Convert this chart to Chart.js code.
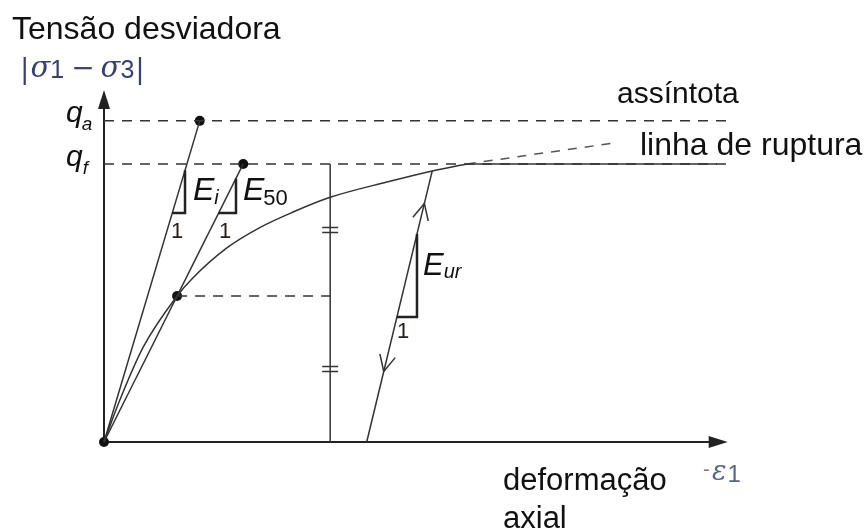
<!DOCTYPE html>
<html>
<head>
<meta charset="utf-8">
<script src="https://cdn.jsdelivr.net/npm/chart.js@4.4.1/dist/chart.umd.min.js"></script>
<style>
  body { margin: 0; background: #fff; }
  canvas { display: block; }
</style>
</head>
<body>
<canvas id="curva" width="866" height="531"></canvas>
<script>
// curva tensão-deformação hiperbólica (deformação axial x tensão desviadora)
const curveStrain = [0, 0.25, 0.62, 1.16, 1.41, 1.95, 2.48, 3.0, 3.59, 4.49, 5.21, 5.76];
const curveStress = [0, 1.5, 3.4, 5.25, 5.9, 6.98, 7.72, 8.27, 8.8, 9.35, 9.75, 10.0];

const qA = 11.55;          // assíntota
const qF = 10.0;           // ruptura
const eiStrain = 1.52;     // tangente inicial atinge qA
const e50Strain = 2.21;    // secante E50 atinge qF
const halfPoint = [1.16, 5.25];
const refStrain = 3.59;    // linha vertical de referência
const failStrain = 5.76;   // início do patamar
const failEnd = 9.73;
const asymptoteEnd = [8.11, 10.76];
const unloadBase = 4.17;
const unloadTop = [5.21, 9.75];
const xMax = 10, yMax = 12.66, xAxisEnd = 9.9;

const gray = '#333';
const seg = (pts, extra) => Object.assign({
  type: 'line', data: pts.map(p => ({ x: p[0], y: p[1] })), showLine: true,
  pointRadius: 0, borderColor: gray, borderWidth: 1.5, fill: false, clip: false
}, extra || {});

const dashed = { borderDash: [10, 8] };

const datasets = [
  seg([[0, qA], [xMax, qA]], dashed),
  seg([[0, qF], [xMax, qF]], dashed),
  seg([halfPoint, [refStrain, halfPoint[1]]], dashed),
  seg([[failStrain, qF], asymptoteEnd], { borderDash: [9, 8], borderColor: '#555' }),
  seg([[0, 0], [eiStrain, qA]]),
  seg([[0, 0], [e50Strain, qF]]),
  seg([[refStrain, 0], [refStrain, qF]]),
  seg(curveStrain.map((s, i) => [s, curveStress[i]]), { cubicInterpolationMode: 'monotone' }),
  seg([[failStrain, qF], [failEnd, qF]]),
  seg([[unloadBase, 0], unloadTop]),
  {
    type: 'scatter',
    data: [[0, 0], [eiStrain, qA], [e50Strain, qF], halfPoint].map(p => ({ x: p[0], y: p[1] })),
    pointRadius: 5, pointBackgroundColor: '#111', pointBorderWidth: 0, clip: false
  }
];

function line(ctx, a, b) {
  ctx.beginPath(); ctx.moveTo(a[0], a[1]); ctx.lineTo(b[0], b[1]); ctx.stroke();
}

function txt(ctx, s, x, y, font, color) {
  ctx.font = font; ctx.fillStyle = color || '#111';
  ctx.fillText(s, x, y);
  return x + ctx.measureText(s).width;
}

const annot = {
  id: 'annot',
  beforeDatasetsDraw(chart) {
    const { ctx, scales: { x, y } } = chart;
    const x0 = x.getPixelForValue(0), y0 = y.getPixelForValue(0);
    const yTop = y.getPixelForValue(yMax), xEnd = x.getPixelForValue(xAxisEnd);
    ctx.save();
    ctx.strokeStyle = '#222'; ctx.fillStyle = '#222'; ctx.lineWidth = 2;
    line(ctx, [x0, y0], [x0, yTop + 14]);
    line(ctx, [x0, y0], [xEnd - 14, y0]);
    ctx.beginPath();
    ctx.moveTo(x0, yTop); ctx.lineTo(x0 - 6, yTop + 19); ctx.lineTo(x0 + 6, yTop + 19); ctx.closePath(); ctx.fill();
    ctx.beginPath();
    ctx.moveTo(xEnd, y0); ctx.lineTo(xEnd - 19, y0 - 6); ctx.lineTo(xEnd - 19, y0 + 6); ctx.closePath(); ctx.fill();
    ctx.restore();
  },
  afterDatasetsDraw(chart) {
    const { ctx, scales: { x, y } } = chart;
    const P = (sx, sy) => [x.getPixelForValue(sx), y.getPixelForValue(sy)];
    ctx.save();

    // triângulos de inclinação
    ctx.strokeStyle = '#222'; ctx.lineWidth = 2.5; ctx.lineJoin = 'miter';
    const tri = (base, run, slope, q0) => {
      const s0 = base[0] + (run - base[1]) / slope;
      const top = base[1] + slope * (q0 - base[0]);
      ctx.beginPath();
      const a = P(s0, run), b = P(q0, run), c = P(q0, top);
      ctx.moveTo(a[0], a[1]); ctx.lineTo(b[0], b[1]); ctx.lineTo(c[0], c[1]); ctx.stroke();
    };
    tri([0, 0], 8.24, qA / eiStrain, 1.286);
    tri([0, 0], 8.24, qF / e50Strain, 2.095);
    const urSlope = unloadTop[1] / (unloadTop[0] - unloadBase);
    tri([unloadBase, 0], 4.5, urSlope, 4.968);

    // setas de descarregamento / recarregamento
    ctx.lineWidth = 1.5; ctx.strokeStyle = gray;
    const p0 = P(unloadBase, 0), p1 = P(unloadTop[0], unloadTop[1]);
    const chevron = (t, dir) => {
      const tip = [p0[0] + t * (p1[0] - p0[0]), p0[1] + t * (p1[1] - p0[1])];
      let dx = (p1[0] - p0[0]) * dir, dy = (p1[1] - p0[1]) * dir;
      const L = Math.hypot(dx, dy); dx /= L; dy /= L;
      const ang = 26 * Math.PI / 180, len = 18;
      for (const s of [-1, 1]) {
        const c = Math.cos(s * ang), si = Math.sin(s * ang);
        const bx = -dx * c + dy * si, by = -dx * si - dy * c;
        line(ctx, tip, [tip[0] + bx * len, tip[1] + by * len]);
      }
    };
    chevron(0.88, 1);
    chevron(0.26, -1);

    // marcas "=" na linha vertical
    const rx = x.getPixelForValue(refStrain);
    for (const q of [(halfPoint[1] + qF) / 2, halfPoint[1] / 2]) {
      const py = y.getPixelForValue(q);
      line(ctx, [rx - 8, py - 2.5], [rx + 8, py - 2.5]);
      line(ctx, [rx - 8, py + 2.5], [rx + 8, py + 2.5]);
    }

    // textos
    const sans = '"Liberation Sans", Arial, sans-serif';
    const serif = '"DejaVu Serif", "Liberation Serif", serif';
    const navy = '#34407a';
    txt(ctx, 'Tensão desviadora', 12, 39, '32px ' + sans, '#111');
    let cx = 20;
    cx = txt(ctx, '|', cx, 78, '28px ' + serif, navy);
    cx = txt(ctx, 'σ', cx + 1, 77, 'italic 29px ' + serif, navy);
    cx = txt(ctx, '1', cx, 78, '25px ' + sans, navy);
    cx = txt(ctx, '−', cx + 7, 77, '28px ' + serif, navy);
    cx = txt(ctx, 'σ', cx + 6, 77, 'italic 29px ' + serif, navy);
    cx = txt(ctx, '3', cx, 78, '25px ' + sans, navy);
    txt(ctx, '|', cx + 1, 78, '28px ' + serif, navy);

    const qa = P(0, qA), qf = P(0, qF);
    let e = txt(ctx, 'q', 66, qa[1] + 1, 'italic 30px ' + sans);
    txt(ctx, 'a', e - 1, qa[1] + 9, 'italic 19px ' + sans);
    e = txt(ctx, 'q', 66, qf[1] + 2, 'italic 30px ' + sans);
    txt(ctx, 'f', e, qf[1] + 10, 'italic 19px ' + sans);

    e = txt(ctx, 'E', 193, 200, 'italic 32px ' + sans);
    txt(ctx, 'i', e, 204, 'italic 20px ' + sans);
    e = txt(ctx, 'E', 243, 200, 'italic 32px ' + sans);
    txt(ctx, '50', e - 1, 205, '22px ' + sans);
    e = txt(ctx, 'E', 423, 275, 'italic 31px ' + sans);
    txt(ctx, 'ur', e, 278, 'italic 20px ' + sans);

    txt(ctx, '1', 171, 238, '22px ' + sans, '#2a2018');
    txt(ctx, '1', 219, 238, '22px ' + sans, '#2a2018');
    txt(ctx, '1', 397, 338, '22px ' + sans, '#2a2018');

    txt(ctx, 'assíntota', 617, 103, '30px ' + sans);
    txt(ctx, 'linha de ruptura', 640, 155, '32px ' + sans);
    txt(ctx, 'deformação', 503, 490, '31px ' + sans);
    txt(ctx, 'axial', 503, 528, '31px ' + sans);

    const blue = '#4e6690';
    txt(ctx, '-', 703, 476, '20px ' + sans, '#777');
    e = txt(ctx, 'ε', 712, 480, 'italic 27px ' + serif, blue);
    txt(ctx, '1', e + 1, 482, '24px ' + sans, blue);
    ctx.restore();
  }
};

new Chart(document.getElementById('curva'), {
  type: 'scatter',
  data: { datasets: datasets },
  options: {
    responsive: false,
    animation: false,
    devicePixelRatio: 1,
    layout: { padding: { left: 104, right: 132, top: 90, bottom: 89 } },
    plugins: { legend: { display: false }, tooltip: { enabled: false } },
    scales: {
      x: { type: 'linear', display: false, min: 0, max: xMax },
      y: { type: 'linear', display: false, min: 0, max: yMax }
    }
  },
  plugins: [annot]
});
</script>
</body>
</html>
